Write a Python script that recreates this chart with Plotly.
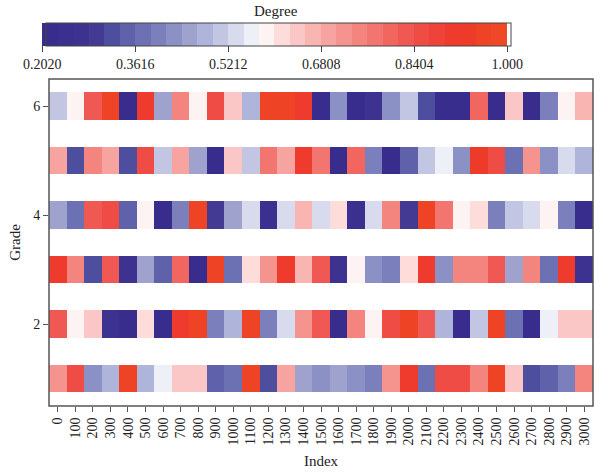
import plotly.graph_objects as go

index_vals = list(range(0, 3001, 100))
grades = [1, 2, 3, 4, 5, 6]

grade1 = [0.721, 0.854, 0.428, 0.481, 0.960, 0.481, 0.561, 0.641, 0.641, 0.348, 0.375, 0.960, 0.322, 0.694, 0.455, 0.428,
          0.455, 0.428, 0.401, 0.721, 0.907, 0.375, 0.854, 0.854, 0.747, 0.960, 0.641, 0.322, 0.348, 0.401, 0.747]
grade2 = [0.827, 0.588, 0.641, 0.268, 0.215, 0.614, 0.215, 0.907, 0.960, 0.401, 0.481, 0.960, 0.401, 0.534, 0.721, 0.827,
          0.215, 0.747, 0.588, 0.854, 0.960, 0.827, 0.481, 0.215, 0.508, 0.960, 0.375, 0.215, 0.561, 0.641, 0.641]
grade3 = [0.907, 0.747, 0.322, 0.827, 0.268, 0.455, 0.348, 0.800, 0.215, 0.960, 0.375, 0.614, 0.721, 0.907, 0.667, 0.827,
          0.268, 0.588, 0.428, 0.401, 0.614, 0.907, 0.428, 0.747, 0.747, 0.827, 0.455, 0.747, 0.375, 0.907, 0.268]
grade4 = [0.455, 0.375, 0.827, 0.854, 0.348, 0.588, 0.215, 0.401, 0.960, 0.295, 0.455, 0.534, 0.242, 0.534, 0.667, 0.534,
          0.614, 0.242, 0.534, 0.747, 0.295, 0.960, 0.774, 0.588, 0.614, 0.401, 0.508, 0.534, 0.588, 0.401, 0.215]
grade5 = [0.694, 0.322, 0.747, 0.694, 0.322, 0.854, 0.508, 0.694, 0.455, 0.215, 0.641, 0.508, 0.774, 0.694, 0.907, 0.774,
          0.215, 0.800, 0.401, 0.215, 0.348, 0.508, 0.561, 0.428, 0.933, 0.854, 0.375, 0.721, 0.428, 0.534, 0.481]
grade6 = [0.508, 0.588, 0.827, 0.960, 0.215, 0.907, 0.455, 0.747, 0.588, 0.854, 0.641, 0.481, 0.960, 0.960, 0.907, 0.215,
          0.428, 0.215, 0.268, 0.428, 0.508, 0.322, 0.215, 0.215, 0.800, 0.215, 0.641, 0.215, 0.401, 0.588, 0.667]

z = [grade1, grade2, grade3, grade4, grade5, grade6]

cb_tickvals = [0.2020, 0.3616, 0.5212, 0.6808, 0.8404, 1.000]
cb_ticktext = ["0.2020", "0.3616", "0.5212", "0.6808", "0.8404", "1.000"]
x_ticktext = [str(v) for v in index_vals]

palette = ["#382d8c", "#3b2f8f", "#3e3290", "#433a94", "#4d4e9e", "#5f62aa", "#6c71b4", "#7b80bc",
           "#8c91c5", "#9ea2cd", "#afb4da", "#c3c6e3", "#d8daed", "#eef0f8", "#fdf3f2", "#fddcda",
           "#fbc7c6", "#f9b5b2", "#f7a3a0", "#f5948f", "#f3857e", "#f2766f", "#f16760", "#f05853",
           "#ef4c45", "#ef433a", "#ef3a2e", "#ee3a28", "#ef4326", "#ef4826"]
n = len(palette)
colorscale = []
for i, c in enumerate(palette):
    colorscale.append([i / n, c])
    colorscale.append([(i + 1) / n, c])

font = "Liberation Serif"
axcol = "#555555"

fig = go.Figure(go.Heatmap(
    x=index_vals, y=grades, z=z,
    zmin=0.202, zmax=1.0,
    colorscale=colorscale,
    ygap=27, xgap=0,
    colorbar=dict(
        orientation="h",
        xref="container", x=36 / 609, xanchor="left",
        yref="container", y=1 - 13 / 473, yanchor="top",
        lenmode="pixels", len=485,
        thickness=23,
        outlinecolor="#444444", outlinewidth=1,
        tickvals=cb_tickvals, ticktext=cb_ticktext,
        ticks="outside", ticklen=6, tickcolor="#444444",
        tickfont=dict(family=font, size=14, color="#222222"),
    ),
))

fig.add_annotation(
    text="Degree", xref="paper", yref="paper",
    x=(275.5 - 49) / 544, y=1 + (79 - 11) / 327,
    xanchor="center", yanchor="middle", showarrow=False,
    font=dict(family=font, size=15, color="#222222"),
)
fig.add_shape(type="rect", xref="paper", yref="paper", x0=0, y0=0, x1=1, y1=1,
              line=dict(color=axcol, width=1.5), fillcolor="rgba(0,0,0,0)", layer="above")

fig.update_layout(
    width=609, height=473,
    margin=dict(l=49, r=16, t=79, b=67, autoexpand=False),
    plot_bgcolor="white", paper_bgcolor="white",
    font=dict(family=font, size=14, color="#222222"),
)
fig.update_xaxes(
    range=[-50, 3050], tickvals=index_vals, ticktext=x_ticktext, tickangle=-90,
    ticks="outside", ticklen=5, tickcolor=axcol,
    showline=False, showgrid=False, zeroline=False,
    title=dict(text="Index", font=dict(family=font, size=15), standoff=10),
    tickfont=dict(family=font, size=14),
)
fig.update_yaxes(
    range=[0.5, 6.5], tickvals=[2, 4, 6],
    ticks="outside", ticklen=5, tickcolor=axcol,
    showline=False, showgrid=False, zeroline=False,
    title=dict(text="Grade", font=dict(family=font, size=15), standoff=8),
    tickfont=dict(family=font, size=14),
)

fig.write_html("out.html")
